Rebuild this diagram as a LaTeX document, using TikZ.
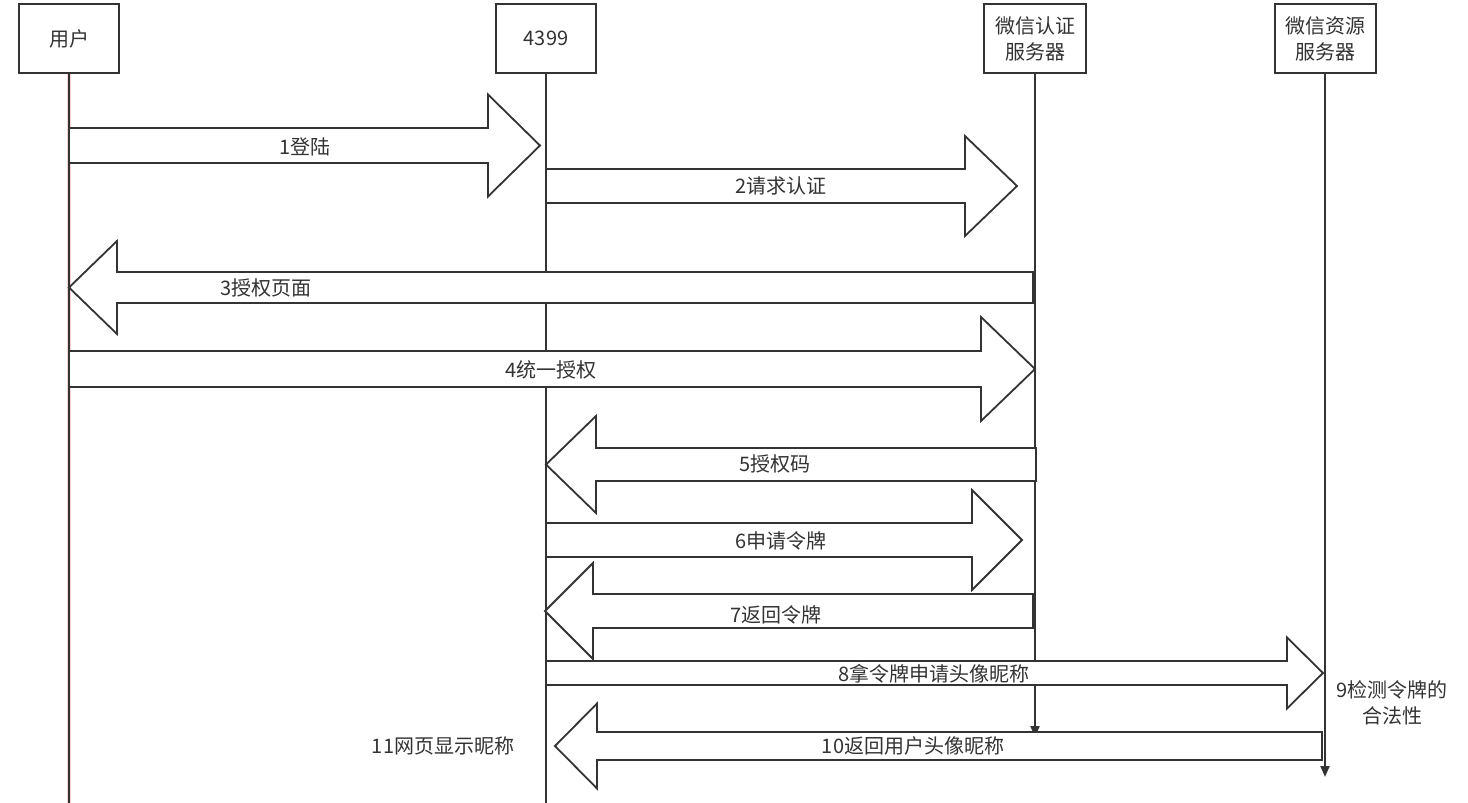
\documentclass[tikz,border=0pt]{standalone}
\usepackage{fontspec}
\setmainfont{Noto Sans CJK SC}
\usetikzlibrary{arrows.meta}
\definecolor{ink}{HTML}{333333}
\definecolor{halo}{HTML}{F3D2D2}
\tikzset{
  box/.style={draw=ink, line width=2pt, fill=white, minimum width=100pt, minimum height=69pt, inner sep=0pt, align=center, text=ink, font=\fontsize{20}{26}\selectfont},
  life/.style={draw=ink, line width=2pt},
  lifetip/.style={life, -{Triangle[length=11pt,width=9pt]}},
  blk/.style={draw=ink, line width=1.8pt, fill=white, line join=miter},
  lbl/.style={text=ink, font=\fontsize{20}{26}\selectfont, inner sep=1pt, align=center}
}
% right arrow: x0, base, tip, cy, body half, head half
\newcommand{\rblock}[6]{\path[blk] (#1,#4-#5) -- (#2,#4-#5) -- (#2,#4-#6) -- (#3,#4) -- (#2,#4+#6) -- (#2,#4+#5) -- (#1,#4+#5) -- cycle;}
% left arrow: tip, base, x end, cy, body half, head half
\newcommand{\lblock}[6]{\path[blk] (#3,#4-#5) -- (#2,#4-#5) -- (#2,#4-#6) -- (#1,#4) -- (#2,#4+#6) -- (#2,#4+#5) -- (#3,#4+#5) -- cycle;}
\begin{document}
\begin{tikzpicture}[x=1pt,y=-1pt]
\useasboundingbox[fill=white] (0,0) rectangle (1468,803);
% boxes
\node[box] (u) at (69,38.5) {用户};
\node[box] (g) at (546,38.5) {4399};
\node[box, minimum width=102pt] (a) at (1035,38.5) {微信认证\\服务器};
\node[box, minimum width=101pt] (r) at (1325,38.5) {微信资源\\服务器};
% lifelines
\coordinate (ue) at (69,803);
\coordinate (ge) at (546,803);
\coordinate (ae) at (1035,737);
\coordinate (re) at (1325,777);
\draw[draw=halo, line width=3.4pt] (u.south) -- (ue);
\draw[life] (u.south) -- (ue);
\draw[life] (g.south) -- (ge);
\draw[lifetip] (a.south) -- (ae);
\draw[lifetip] (r.south) -- (re);
% block arrows
\rblock{69}{488}{540}{145.5}{17.5}{51}
\rblock{546}{965}{1017}{186}{17}{50}
\lblock{69}{117}{1033}{287.5}{15.5}{46.5}
\rblock{69}{981}{1035}{369}{18}{52}
\lblock{546}{596}{1036}{464.5}{16.5}{48.5}
\rblock{546}{972}{1022}{540}{17}{50}
\lblock{545}{593}{1033}{611}{17}{48}
\rblock{546}{1287}{1323}{673}{12}{35.5}
\lblock{555}{597}{1322}{746}{14}{42.5}
% labels
\node[lbl] (l1) at (305,147) {1登陆};
\node[lbl] (l2) at (781,186) {2请求认证};
\node[lbl] (l3) at (266,288) {3授权页面};
\node[lbl] (l4) at (551,370) {4统一授权};
\node[lbl] (l5) at (775,464) {5授权码};
\node[lbl] (l6) at (781,541) {6申请令牌};
\node[lbl] (l7) at (776,615) {7返回令牌};
\node[lbl] (l8) at (934,674) {8拿令牌申请头像昵称};
\node[lbl] (l9) at (1392,703) {9检测令牌的\\合法性};
\node[lbl] (l10) at (913,746) {10返回用户头像昵称};
\node[lbl] (l11) at (443,746) {11网页显示昵称};
\end{tikzpicture}
\end{document}
